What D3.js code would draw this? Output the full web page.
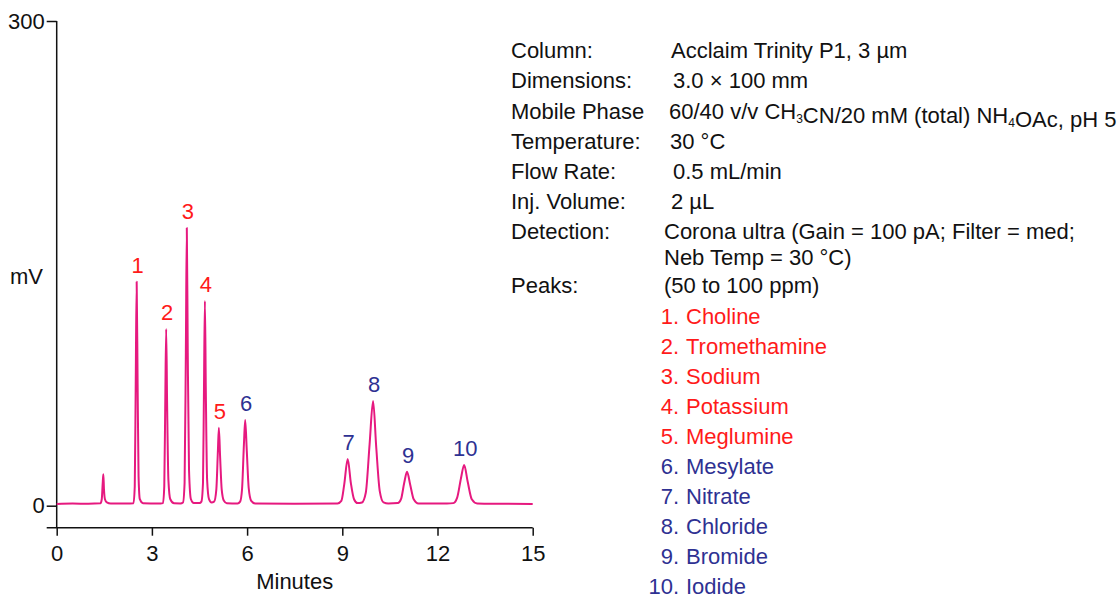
<!DOCTYPE html>
<html>
<head>
<meta charset="utf-8">
<script src="https://cdn.jsdelivr.net/npm/d3@7"></script>
<style>
  body { margin: 0; background: #fff; }
  svg { display: block; font-family: "Liberation Sans", Arial, sans-serif; }
</style>
</head>
<body>
<div id="chart"></div>
<script>
// chromatogram trace: [minutes, mV]
var trace = [
  [0, 1.0], [0.5, 1.3], [1.0, 1.2], [1.38, 1.5],
  [1.42, 4], [1.45, 14], [1.47, 19.4], [1.49, 10], [1.52, 4], [1.58, 2], [1.7, 1.3],
  [2.2, 1.3], [2.42, 1.5],
  [2.46, 12], [2.49, 75], [2.52, 138.6], [2.55, 75], [2.58, 18], [2.62, 4], [2.72, 1.5],
  [3.2, 1.3], [3.35, 1.6],
  [3.39, 12], [3.42, 62], [3.45, 109.4], [3.48, 62], [3.52, 16], [3.58, 4], [3.7, 1.5],
  [3.9, 1.4], [3.98, 2],
  [4.03, 14], [4.07, 95], [4.10, 171.9], [4.13, 95], [4.17, 22], [4.23, 4], [4.32, 1.6],
  [4.5, 1.6], [4.56, 2.5],
  [4.61, 14], [4.64, 70], [4.67, 126.7], [4.70, 70], [4.74, 16], [4.8, 4], [4.88, 2],
  [4.96, 2.5],
  [5.03, 10], [5.08, 34], [5.11, 48.3], [5.15, 30], [5.2, 10], [5.27, 3], [5.36, 1.5],
  [5.7, 1.3], [5.78, 2.5],
  [5.84, 10], [5.9, 38], [5.94, 53], [5.99, 34], [6.05, 11], [6.13, 3], [6.25, 1.4],
  [7.5, 1.2], [8.85, 1.4],
  [8.97, 3], [9.06, 13], [9.17, 28.9], [9.27, 14], [9.37, 4], [9.48, 1.6],
  [9.62, 2], [9.74, 8], [9.86, 38], [9.97, 64.8], [10.07, 36], [10.18, 9], [10.3, 2], [10.45, 1.3],
  [10.75, 1.6], [10.85, 4], [10.95, 14], [11.04, 21], [11.14, 13], [11.25, 4], [11.4, 1.4],
  [12.3, 1.3],
  [12.5, 1.6], [12.62, 5], [12.74, 17], [12.84, 25.2], [12.95, 15], [13.08, 4], [13.25, 1.4],
  [14, 1.2], [15, 1.0]
];

var peakNumbers = [1, 2, 3, 4, 5, 6, 7, 8, 9, 10];
var peakNames = ["Choline", "Tromethamine", "Sodium", "Potassium", "Meglumine",
                 "Mesylate", "Nitrate", "Chloride", "Bromide", "Iodide"];
var peakTimes = [2.52, 3.45, 4.10, 4.67, 5.11, 5.94, 9.17, 9.97, 11.04, 12.84];
var peakHeights = [138.6, 109.4, 171.9, 126.7, 48.3, 53, 28.9, 64.8, 21, 25.2];
var peakIons = ["cation", "cation", "cation", "cation", "cation",
                "anion", "anion", "anion", "anion", "anion"];

var xTicks = [0, 3, 6, 9, 12, 15];
var yTicks = [0, 300];

var conditionLabels = ["Column:", "Dimensions:", "Mobile Phase", "Temperature:", "Flow Rate:",
                       "Inj. Volume:", "Detection:", "", "Peaks:"];
var conditionValues = ["Acclaim Trinity P1, 3 µm", "3.0 × 100 mm",
                       "60/40 v/v CH_3CN/20 mM (total) NH_4OAc, pH 5", "30 °C", "0.5 mL/min",
                       "2 µL", "Corona ultra (Gain = 100 pA; Filter = med;", "Neb Temp = 30 °C)",
                       "(50 to 100 ppm)"];

var W = 1120, H = 598;
var fontSize = 22;
var traceColor = "#e6197f";
var ionColor = { cation: "#ff1a1a", anion: "#2e3192" };

var svg = d3.select("#chart").append("svg")
    .attr("width", W)
    .attr("height", H);

var x = d3.scaleLinear().domain([0, 15]).range([56.7, 532.7]);
var y = d3.scaleLinear().domain([0, 300]).range([505.7, 21]);
var xAxisY = 527.7;

// x axis (line runs a bit past the y axis on the left)
var gx = svg.append("g")
    .attr("transform", "translate(0," + xAxisY + ")")
    .call(d3.axisBottom(x).tickValues(xTicks).tickSize(8).tickPadding(10).tickSizeOuter(0));
gx.select(".domain").remove();
gx.append("line")
    .attr("x1", 46.7).attr("x2", x(15))
    .attr("stroke", "#111").attr("stroke-width", 1.5);
gx.selectAll(".tick line").attr("stroke", "#111").attr("stroke-width", 1.5);
gx.selectAll(".tick text")
    .attr("fill", "#111")
    .style("font-size", fontSize + "px")
    .style("font-family", "'Liberation Sans', Arial, sans-serif");

// y axis
var gy = svg.append("g")
    .attr("transform", "translate(" + x(0) + ",0)")
    .call(d3.axisLeft(y).tickValues(yTicks).tickSize(10).tickPadding(2).tickSizeOuter(0));
gy.select(".domain").remove();
gy.append("line")
    .attr("y1", y(300)).attr("y2", xAxisY)
    .attr("stroke", "#111").attr("stroke-width", 1.5);
gy.selectAll(".tick line").attr("stroke", "#111").attr("stroke-width", 1.5);
gy.selectAll(".tick text")
    .attr("fill", "#111")
    .style("font-size", fontSize + "px")
    .style("font-family", "'Liberation Sans', Arial, sans-serif");

svg.append("text")
    .attr("x", 26.5).attr("y", 284)
    .attr("text-anchor", "middle")
    .style("font-size", fontSize + "px")
    .attr("fill", "#111")
    .text("mV");

svg.append("text")
    .attr("x", x(7.5)).attr("y", 589)
    .attr("text-anchor", "middle")
    .style("font-size", fontSize + "px")
    .attr("fill", "#111")
    .text("Minutes");

// trace
svg.append("path")
    .datum(trace)
    .attr("fill", "none")
    .attr("stroke", traceColor)
    .attr("stroke-width", 2)
    .attr("stroke-linejoin", "round")
    .attr("d", d3.line()
        .curve(d3.curveMonotoneX)
        .x(function(d) { return x(d[0]); })
        .y(function(d) { return y(d[1]); }));

// peak numbers above the peaks
svg.selectAll(".peaklabel")
    .data(peakNumbers)
    .enter()
    .append("text")
    .attr("class", "peaklabel")
    .attr("x", function(d, i) { return x(peakTimes[i]) + 1; })
    .attr("y", function(d, i) { return y(peakHeights[i]) - 9; })
    .attr("text-anchor", "middle")
    .style("font-size", fontSize + "px")
    .attr("fill", function(d, i) { return ionColor[peakIons[i]]; })
    .text(function(d) { return d; });

// conditions block
var condY = [58, 88, 119, 149, 179, 209, 239, 265, 293];
var condValX = [671, 673, 669, 670, 673, 671, 664, 664, 664];

svg.selectAll(".condlabel")
    .data(conditionLabels)
    .enter()
    .append("text")
    .attr("class", "condlabel")
    .attr("x", 511)
    .attr("y", function(d, i) { return condY[i]; })
    .style("font-size", fontSize + "px")
    .attr("fill", "#111")
    .text(function(d) { return d; });

var vals = svg.selectAll(".condval")
    .data(conditionValues)
    .enter()
    .append("text")
    .attr("class", "condval")
    .attr("x", function(d, i) { return condValX[i]; })
    .attr("y", function(d, i) { return condY[i]; })
    .style("font-size", fontSize + "px")
    .attr("fill", "#111");

// split on "_n" for the subscripts
vals.each(function(d) {
    var t = d3.select(this);
    var parts = d.split(/_(\d)/);
    parts.forEach(function(p, k) {
        if (p === "") return;
        if (k % 2 === 1) {
            t.append("tspan").attr("dy", 4).style("font-size", "12px").text(p);
            t.append("tspan").attr("dy", -4).text("");
        } else {
            t.append("tspan").text(p);
        }
    });
});

// peak list
var listY0 = 324;
var list = svg.selectAll(".peakitem")
    .data(peakNames)
    .enter()
    .append("g")
    .attr("class", "peakitem")
    .attr("fill", function(d, i) { return ionColor[peakIons[i]]; })
    .style("font-size", fontSize + "px");

list.append("text")
    .attr("x", 679)
    .attr("y", function(d, i) { return listY0 + i * 30; })
    .attr("text-anchor", "end")
    .text(function(d, i) { return peakNumbers[i] + "."; });

list.append("text")
    .attr("x", 686)
    .attr("y", function(d, i) { return listY0 + i * 30; })
    .text(function(d) { return d; });
</script>
</body>
</html>
